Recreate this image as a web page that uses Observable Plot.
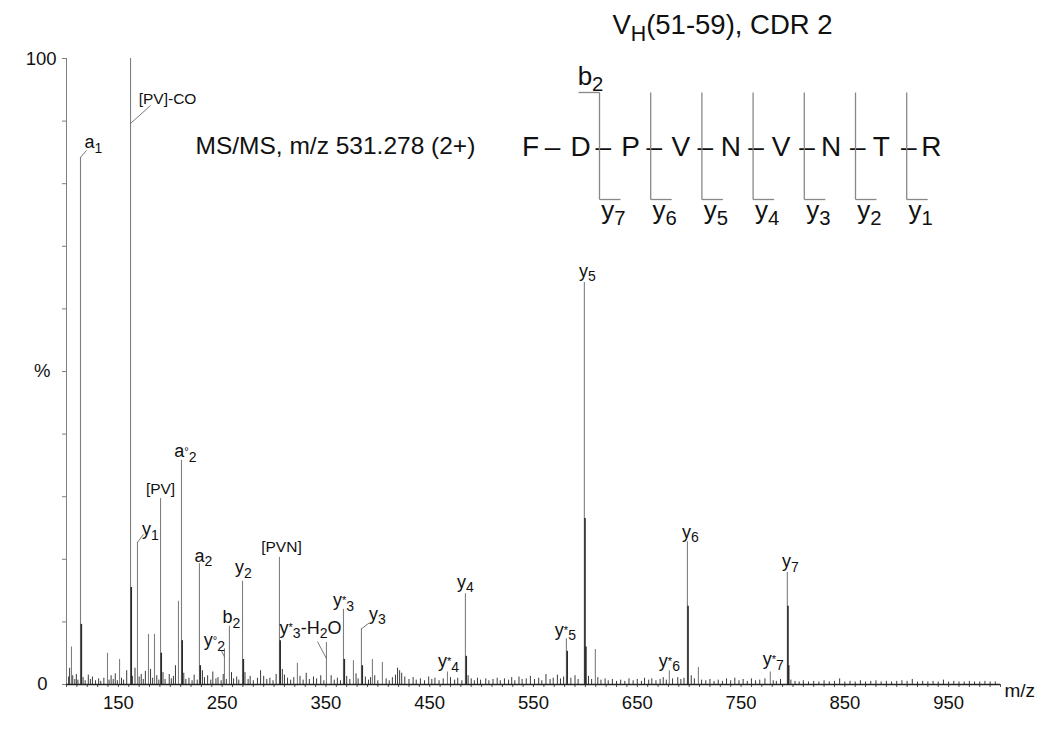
<!DOCTYPE html>
<html><head><meta charset="utf-8">
<script src="https://cdn.jsdelivr.net/npm/d3@7"></script>
<script src="https://cdn.jsdelivr.net/npm/@observablehq/plot@0.6"></script>
<style>
html,body{margin:0;padding:0;background:#fff;}
#chart{width:1050px;height:731px;}
</style></head><body><div id="chart"></div>
<script>
// ---------------- data ----------------
const peakMz  = [104.8, 113.5, 139.5, 151.1, 161.7, 168.4, 179.0, 184.8, 190.6, 207.9, 210.8, 228.1, 252.2, 257.0, 269.6, 305.2, 322.5, 350.5, 366.9, 376.5, 384.2, 394.8, 404.4, 467.1, 484.4, 581.7, 599.0, 609.6, 680.9, 698.3, 708.9, 778.2, 794.6];
const peakInt = [6.0,   84.2,  5.0,   4.0,   100,   22.7,  8.0,   8.0,   29.7,  13.3,  35.8,  19.3,  5.7,   9.3,   16.5,  20.3,  3.4,   6.7,   12.0,  3.8,   8.9,   4.0,   3.5,   2.0,   14.5,  7.3,   64.2,  5.6,   2.2,   22.8,  2.7,   2.0,   17.9];
const shoulderMz  = [114.3, 162.4, 191.3, 211.5, 228.9, 270.4, 305.9, 367.7, 385.0, 485.2, 582.5, 599.6, 600.5, 698.9, 795.2, 795.9];
const shoulderInt = [9.6,   15.5,  5.0,   7.0,   3.0,   4.0,   7.0,   4.0,   3.0,   4.5,   5.3,   26.5,  6.0,   12.5,  12.5,  3.0];
const noise = [
 [102,1.2],[103,2.6],[106,1.4],[108,0.8],[109.5,1.6],[111,0.7],[116,1.1],[118,0.6],[121,1.5],[123,0.8],[125,1.2],[128,0.6],[131,0.9],[133,0.5],[136,1.0],[141,0.7],[143,1.4],[145,0.8],[147,1.7],[149,0.6],[153,1.0],[155,0.7],[158,2.2],[163.5,1.3],[166,2.6],[170,1.2],[172,1.6],[174,0.8],[176,2.1],[181,2.4],[183,1.0],[187,1.4],[189,0.7],[193,1.9],[195,0.8],[199,1.6],[201,0.9],[203,1.3],[205,3.0],[213,1.8],[215,0.8],
 [218,1.0],[221,0.6],[223,1.5],[226,0.7],[231,2.2],[233,1.1],[236,1.4],[239,0.7],[241,2.0],[244,0.9],[246,1.1],[249,0.6],[251,1.6],[254,0.8],[259,1.9],[261,0.9],[264,1.2],[266,0.7],[272,1.9],[275,0.8],[277,1.3],[280,0.6],[284,1.0],[287,2.2],[290,1.3],[293,0.8],[296,1.0],[299,0.6],[302,1.6],[308,2.4],[310,1.5],[313,1.0],[316,0.7],[319,1.1],[325,1.3],[328,0.7],[331,1.8],[334,0.8],[338,1.2],[341,0.9],[345,1.4],[348,0.6],[355,1.4],[358,0.7],[361,1.0],[364,0.6],[370,1.3],[373,0.8],[379,1.7],[381,0.9],[388,1.2],[391,0.7],[393,1.1],[397,1.4],[400,0.6],
 [408,0.9],[411,0.6],[414,1.1],[417,1.5],[419,2.6],[421,2.2],[423,1.8],[426,1.2],[430,0.8],[434,1.1],[437,0.7],[441,0.9],[445,0.6],[449,1.2],[452,0.8],[455,1.0],[459,0.6],[463,0.9],[470,1.1],[474,0.7],[477,1.0],[481,0.6],[487,1.4],[490,0.9],[493,0.6],[496,1.0],[499,0.7],[504,0.9],[507,0.6],[511,0.8],[515,1.0],[518,0.6],[522,0.9],[526,0.7],[529,1.1],[532,0.6],[536,1.2],[539,0.8],[543,0.9],[547,1.3],[551,0.8],[555,1.0],[558,0.6],[562,1.6],[566,0.8],[569,1.0],[573,1.5],[576,0.9],[579,1.2],[586,1.0],[590,1.4],[593,0.8],
 [603,1.3],[606,0.8],[612,1.1],[615,0.7],[619,0.9],[622,0.6],[626,0.8],[630,0.5],[634,0.7],[638,0.5],[642,0.9],[646,0.6],[650,0.8],[654,0.5],[657,1.0],[661,0.7],[664,0.9],[668,0.6],[672,0.8],[675,1.1],[678,0.7],[684,0.9],[689,1.1],[692,0.8],[695,1.0],[702,1.4],[705,0.9],[712,0.7],[716,0.6],[720,0.8],[724,0.5],[728,0.7],[732,0.5],[736,0.9],[740,0.6],[744,1.0],[748,0.6],[752,0.8],[756,0.5],[760,0.9],[764,0.6],[768,0.7],[773,0.9],[781,0.6],[784,0.5],[788,0.8],[798,0.7],[802,0.5],[806,0.4],[810,0.6],[815,0.4],[820,0.5],[825,0.4],[830,0.6],[835,0.4],[840,0.5],[845,0.9],[850,0.4],[855,0.5],[860,0.4],[865,0.6],[870,0.4],[875,0.5],[880,0.6],[885,0.4],[890,0.5],[895,0.4],[900,0.5],[905,0.6],[910,0.5],[915,0.8],[920,0.4],[925,0.5],[930,0.4],[935,0.5],[940,0.4],[945,0.7],[950,0.4],[955,0.5],[960,0.4],[965,0.4],[970,0.5],[975,0.4],[980,0.4],[985,0.5],[990,0.4],[995,0.4]
];
const labelText = ["a_1","[PV]-CO","y_1","[PV]","a^°_2","a_2","y^°_2","b_2","y_2","[PVN]","y^*_3-H_2O","y^*_3","y_3","y^*_4","y_4","y^*_5","y_5","y^*_6","y_6","y^*_7","y_7"];
const labelPeak = [113.5,161.7,168.4,190.6,210.8,228.1,252.2,257.0,269.6,305.2,350.5,366.9,384.2,467.1,484.4,581.7,599.0,680.9,698.3,778.2,794.6];
const residues = ["F","D","P","V","N","V","N","T","R"];
const yFragments = ["y_7","y_6","y_5","y_4","y_3","y_2","y_1"];
const bFragment = "b_2";
const titleText = "V_H(51-59), CDR 2";
const subtitleText = "MS/MS, m/z 531.278 (2+)";
const xTicks = d3.range(100, 1001, 10);
const xTickLabels = [150, 250, 350, 450, 550, 650, 750, 850, 950];
const yTicks = d3.range(0, 101, 10);

// ---------------- layout ----------------
const W = 1050, H = 731, ML = 66, MR = 50, MT = 58, MB = 47;
const kx = (W - ML - MR) / 900, ky = (H - MT - MB) / 100;
const X = px => 100 + (px - ML) / kx;     // pixel -> m/z (for annotation layout)
const Y = py => (H - MB - py) / ky;       // pixel -> %
// label offsets in px relative to the peak top: dx, dy(baseline), leader
const labelLayout = [
 [13,-9,[0,0,6,-7]], [37,45,[0,65,20,47]], [13,-7,[0,0,6,-8]], [0,-5,null], [4,-3,null],
 [4,-2,null], [-10,-3,[-3,2,0,8]], [2,-3,null], [1,-8,null], [2,-5,null],
 [-16,-9,[-9,-1,0,16]], [0,-3,null], [16,-9,[0,0,8,-6]], [1,-5,null], [0,-6,null],
 [-1,-3,null], [3,-6,null], [0,-4,null], [3,-4,null], [3,-7,null], [3,-5,null]
];

const peaks = peakMz.map((m, i) => ({mz: m, h: peakInt[i]}));
const shoulders = shoulderMz.map((m, i) => ({mz: m, h: shoulderInt[i]}));
const noiseData = noise.map(([m, h]) => ({mz: m, h}));
const heightOf = m => peaks.find(p => p.mz === m).h;

const labels = labelText.map((t, i) => {
  const [dx, dy] = labelLayout[i];
  const h = heightOf(labelPeak[i]);
  return {t, x: labelPeak[i] + dx / kx, y: h - dy / ky, small: t.startsWith("[")};
});
const leaders = [];
labelText.forEach((t, i) => {
  const L = labelLayout[i][2];
  if (!L) return;
  const h = heightOf(labelPeak[i]);
  leaders.push({x1: labelPeak[i] + L[0] / kx, y1: h - L[1] / ky, x2: labelPeak[i] + L[2] / kx, y2: h - L[3] / ky});
});

// peptide diagram layout (px)
const seqY = 155, letterX0 = 530, letterStep = 50.1, dashX0 = 552, dashStep = 50.9;
const brX0 = 599, brStep = 51.2, brTop = 92, brBot = 199, brArm = 21;
const seqLetters = residues.map((r, i) => ({t: r, x: X(letterX0 + i * letterStep), y: Y(seqY)}));
const seqDashes = residues.slice(1).map((r, i) => ({t: "–", x: X(dashX0 + i * dashStep), y: Y(seqY)}));
const segs = [];
yFragments.forEach((f, j) => {
  const bx = brX0 + j * brStep;
  segs.push({x1: X(bx), y1: Y(brTop), x2: X(bx), y2: Y(brBot)});
  segs.push({x1: X(bx), y1: Y(brBot), x2: X(bx + brArm), y2: Y(brBot)});
});
segs.push({x1: X(brX0 - brArm), y1: Y(brTop), x2: X(brX0), y2: Y(brTop)});
const fragText = yFragments.map((f, j) => ({t: f, x: X(brX0 + j * brStep + 14), y: Y(218)}));
fragText.push({t: bFragment, x: X(brX0 - 9), y: Y(84)});

const font = "'Liberation Sans', Arial, Helvetica, sans-serif";

const plot = Plot.plot({
  width: W, height: H,
  marginLeft: ML, marginRight: MR, marginTop: MT, marginBottom: MB,
  x: {domain: [100, 1000], axis: null},
  y: {domain: [0, 100], axis: null},
  style: {fontFamily: font, fontSize: "18px", color: "#111", background: "#fff"},
  marks: [
    Plot.ruleX([100], {stroke: "#808080", strokeWidth: 1}),
    Plot.axisY({ticks: yTicks, tickSize: 4, tickFormat: () => "", stroke: "#808080"}),
    Plot.axisX({ticks: xTicks, tickSize: 3, tickPadding: 8, fontSize: 18.5, stroke: "#555",
                tickFormat: d => xTickLabels.includes(d) ? String(d) : ""}),
    Plot.ruleX(noiseData, {x: "mz", y1: 0, y2: "h", stroke: "#3a3a3a", strokeWidth: 1}),
    Plot.ruleX(peaks, {x: "mz", y1: 0, y2: "h", stroke: "#7f7f7f", strokeWidth: 1.1}),
    Plot.ruleX(shoulders, {x: "mz", y1: 0, y2: "h", stroke: "#2b2b2b", strokeWidth: 1.6}),
    Plot.ruleY([0], {stroke: "#222", strokeWidth: 1.5}),
    Plot.link(leaders, {x1: "x1", y1: "y1", x2: "x2", y2: "y2", stroke: "#555", strokeWidth: 0.8}),
    Plot.text(labels.filter(d => !d.small), {x: "x", y: "y", text: "t", fontSize: 18, lineAnchor: "bottom", textAnchor: "middle", fill: "#111"}),
    Plot.text(labels.filter(d => d.small), {x: "x", y: "y", text: "t", fontSize: 15.5, lineAnchor: "bottom", textAnchor: "middle", fill: "#111"}),
    // y axis labels
    Plot.text(["100"], {x: 100, y: 100, dx: -10, dy: 1, textAnchor: "end", lineAnchor: "middle", fontSize: 18.5}),
    Plot.text(["%"], {x: 100, y: 50, dx: -16, textAnchor: "end", lineAnchor: "middle", fontSize: 18.5}),
    Plot.text(["0"], {x: 100, y: 0, dx: -19, textAnchor: "end", lineAnchor: "middle", fontSize: 18.5}),
    Plot.text(["m/z"], {x: X(1004), y: Y(696), textAnchor: "start", lineAnchor: "bottom", fontSize: 19}),
    // annotations
    Plot.text([titleText], {x: X(722), y: Y(33), textAnchor: "middle", lineAnchor: "bottom", fontSize: 27.5}),
    Plot.text([subtitleText], {x: X(195), y: Y(153), textAnchor: "start", lineAnchor: "bottom", fontSize: 24.5}),
    Plot.text(seqLetters, {x: "x", y: "y", text: "t", textAnchor: "middle", lineAnchor: "bottom", fontSize: 28}),
    Plot.text(seqDashes, {x: "x", y: "y", text: "t", textAnchor: "middle", lineAnchor: "bottom", fontSize: 28}),
    Plot.link(segs, {x1: "x1", y1: "y1", x2: "x2", y2: "y2", stroke: "#888", strokeWidth: 1.3}),
    Plot.text(fragText, {x: "x", y: "y", text: "t", textAnchor: "middle", lineAnchor: "bottom", fontSize: 26})
  ]
});
document.getElementById("chart").appendChild(plot);

// rich text: "_c" -> subscript, "^c" -> superscript
const SVGNS = "http://www.w3.org/2000/svg";
plot.querySelectorAll("text").forEach(el => {
  const s = el.textContent;
  if (!/[_^]/.test(s)) return;
  const fs = parseFloat(getComputedStyle(el).fontSize) || 17;
  el.textContent = "";
  let shift = 0, buf = "";
  const add = (str, target, scale) => {
    const t = document.createElementNS(SVGNS, "tspan");
    t.textContent = str;
    if (scale !== 1) t.setAttribute("font-size", (fs * scale).toFixed(1));
    const d = target - shift;
    if (Math.abs(d) > 0.01) t.setAttribute("dy", d.toFixed(2));
    shift = target;
    el.appendChild(t);
  };
  const flush = () => { if (buf) { add(buf, 0, 1); buf = ""; } };
  for (let i = 0; i < s.length; i++) {
    const c = s[i];
    if (c === "_" && i + 1 < s.length) { flush(); add(s[i + 1], 0.26 * fs, 0.78); i++; }
    else if (c === "^" && i + 1 < s.length) { flush(); add(s[i + 1], -0.12 * fs, 0.62); i++; }
    else buf += c;
  }
  flush();
});
</script></body></html>
